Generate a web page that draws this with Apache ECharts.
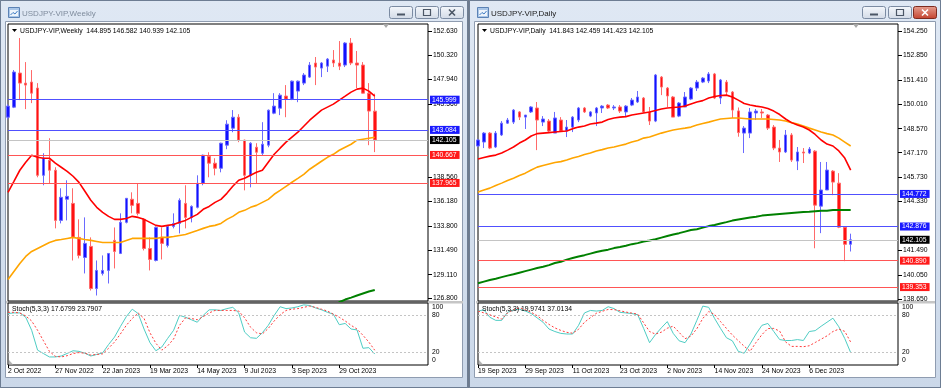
<!DOCTYPE html>
<html><head><meta charset="utf-8">
<script src="https://cdn.jsdelivr.net/npm/echarts@6/dist/echarts.min.js"></script>
<style>html,body{margin:0;padding:0;background:#6f7b8c;}#c{width:941px;height:388px;}</style>
</head><body><div id="c"></div>
<script>
// ---------------- DATA: Weekly ----------------
const wStart = '2022-10-02';
const wOpen  = [144.31,145.28,148.57,147.60,147.70,147.12,138.70,140.16,139.19,134.35,136.39,135.99,132.71,130.77,131.84,127.77,129.23,129.52,132.42,131.16,134.16,136.39,135.99,134.45,131.64,130.48,132.71,131.93,133.77,134.06,135.99,134.64,135.61,137.93,140.54,139.87,139.38,141.61,143.25,144.31,142.09,138.70,141.41,140.83,141.61,144.70,145.18,146.35,146.05,146.83,147.60,148.18,149.54,149.05,149.24,149.83,149.54,149.34,151.47,149.54,149.34,146.63,144.895];
const wHigh  = [145.55,148.86,151.95,149.63,148.86,147.60,140.83,142.28,139.48,137.45,138.22,137.45,134.45,134.64,132.71,130.48,130.97,131.20,133.67,135.03,136.50,137.06,137.93,134.54,132.71,133.77,133.67,133.87,135.03,136.48,137.74,135.80,138.70,140.70,140.93,140.35,141.85,144.02,145.00,144.60,142.15,141.90,141.80,143.83,145.05,146.63,146.63,147.41,147.85,147.85,148.57,149.63,150.12,149.63,150.02,150.79,151.66,151.56,151.95,150.70,149.63,147.60,146.582];
const wLow   = [144.10,145.19,145.96,145.09,145.67,138.51,137.74,137.93,133.58,134.06,134.35,130.48,130.68,129.23,127.58,127.10,129.03,128.26,129.71,131.10,134.06,135.03,134.83,131.45,129.52,130.39,130.58,131.74,133.58,133.09,133.58,134.16,135.51,137.74,138.51,138.70,138.99,141.22,142.86,141.90,137.25,137.54,137.93,140.64,141.41,144.60,144.51,144.31,145.96,145.76,147.41,148.10,147.41,148.18,148.67,149.15,148.86,149.15,149.34,147.12,146.60,141.61,140.939];
const wClose = [145.38,148.67,147.60,147.41,146.63,138.70,140.35,139.19,134.35,136.58,136.67,132.71,130.97,132.13,127.77,129.52,129.52,131.16,131.35,134.16,136.48,135.80,135.03,131.64,130.58,133.67,132.13,133.77,134.06,136.29,134.64,135.70,137.93,140.64,139.87,139.38,141.80,143.64,144.31,142.09,138.70,141.80,140.93,141.70,144.99,145.38,146.44,146.05,147.79,147.79,148.38,149.34,149.15,149.54,149.92,149.54,149.24,151.47,149.54,149.34,146.63,144.90,142.105];
const wMaRed    = [137.06,138.12,139.19,139.96,140.64,140.44,140.35,140.35,139.87,139.48,139.09,138.61,138.02,137.16,136.29,135.61,135.13,134.74,134.45,134.45,134.54,134.74,134.64,134.45,134.16,133.87,133.77,133.87,133.96,134.16,134.35,134.64,134.93,135.42,135.70,136.09,136.38,136.96,137.64,138.22,138.41,138.70,138.99,139.19,139.96,140.73,141.32,141.90,142.38,142.86,143.44,144.02,144.51,144.99,145.28,145.57,145.96,146.34,146.73,147.02,147.12,146.83,146.34];
const wMaOrange = [128.65,129.42,130.19,130.87,131.35,131.64,131.93,132.22,132.42,132.51,132.61,132.71,132.61,132.51,132.42,132.32,132.22,132.22,132.22,132.22,132.42,132.61,132.61,132.61,132.61,132.61,132.71,132.71,132.80,132.90,132.99,133.19,133.38,133.58,133.77,133.87,134.06,134.45,134.74,135.13,135.32,135.61,135.80,136.09,136.38,136.87,137.25,137.64,138.03,138.41,138.80,139.29,139.67,140.06,140.44,140.73,141.12,141.41,141.70,142.09,142.19,142.28,142.38];
const wMaGreen  = [null,null,null,null,null,null,null,null,null,null,null,null,null,null,null,null,null,null,null,null,null,null,null,null,null,null,null,null,null,null,null,null,null,null,null,null,null,null,null,null,null,null,null,null,null,null,null,null,null,null,null,null,null,null,null,126.10,126.45,126.71,126.90,127.10,127.29,127.48,127.63];
const wStochK = [83,84,84,77,56,24,18.4,13,13,14.5,18.6,23,22,19,14.5,17,19.5,33,45,62,78,90,83,58,36,23,29,43,56,80,77,73,69,80,89,89,88,91,93,84,53,44,43,52,64,80,94,91,92,94,97,96,92,89,85,82,65,67,58,56.6,27,28,17.6799];
const wStochD = [85,85,84,79,71,56,39,22,14,13,15,18.5,20,19,16,17,18,27,37,50,64,75,84,75,52,35,24,31,42,64,76,75,73,78,84,88,88,88,88,87,76,61,52,50,59,71,81,88,90,91,93,95,93,90,87,82,77,71,64,58,48,37,23.7907];
const wLevels = [145.999, 143.084, 142.105, 140.667, 137.965];
const wLevelKinds = ['res','res','bid','sup','sup'];
const wPriceTicks = [152.63,150.32,147.94,145.56,138.56,136.18,133.80,131.49,129.11,126.80];
const wDateLabels = ['2 Oct 2022','27 Nov 2022','22 Jan 2023','19 Mar 2023','14 May 2023','9 Jul 2023','3 Sep 2023','29 Oct 2023'];

// ---------------- DATA: Daily ----------------
const dStart = '2023-09-19';
const dOpen  = [147.56,147.79,148.31,147.50,148.20,148.89,148.95,149.54,149.24,149.54,149.77,148.95,149.01,148.31,149.07,148.43,148.66,149.07,149.77,149.30,149.48,149.77,149.94,149.77,149.83,149.54,149.94,150.12,150.35,149.54,149.01,151.57,150.93,150.41,149.30,149.83,150.29,150.93,151.28,151.34,151.75,150.35,151.28,150.70,149.60,148.31,148.31,149.48,149.54,149.36,148.66,147.44,147.21,148.20,146.68,147.21,147.15,147.26,144.06,145.00,146.10,145.40,142.84,141.843];
const dHigh  = [147.97,148.37,148.37,148.43,149.01,149.19,149.71,149.59,149.36,149.88,150.12,149.30,149.13,149.54,149.24,149.07,149.30,149.83,149.83,149.59,149.83,149.94,150.00,149.94,149.94,149.94,150.35,150.76,150.41,149.83,151.75,151.63,150.99,150.47,150.12,150.70,150.99,151.40,151.57,151.86,151.81,151.46,151.40,150.76,149.80,148.72,149.77,149.71,149.71,149.42,148.78,147.91,148.49,148.31,147.50,147.44,147.50,147.32,146.63,146.63,146.16,145.98,142.84,142.459];
const dLow   = [147.50,147.44,147.38,147.44,148.14,148.84,148.84,149.07,148.55,149.48,147.32,148.72,148.37,148.31,148.37,148.08,148.37,148.95,149.48,149.24,148.72,149.48,149.71,149.65,149.48,149.24,149.88,150.06,149.48,148.78,148.95,150.52,149.83,149.24,149.24,149.83,150.23,150.76,151.22,151.22,150.29,150.00,150.47,149.19,148.10,147.15,148.02,149.07,149.19,148.49,147.32,146.63,147.15,146.63,146.16,146.57,147.09,141.61,142.49,145.00,144.70,142.78,140.86,141.423];
const dClose = [147.91,148.31,147.44,148.31,148.89,149.07,149.65,149.24,149.36,149.83,149.07,149.13,148.43,149.19,148.43,148.66,149.24,149.77,149.54,149.54,149.77,149.88,149.77,149.83,149.59,149.88,150.23,150.41,149.54,149.01,151.69,150.99,150.47,149.24,150.06,150.41,150.93,151.28,151.51,151.75,150.35,151.40,150.70,149.65,148.34,148.60,149.54,149.59,149.48,148.60,147.44,147.21,148.20,146.74,147.21,147.15,147.38,144.12,145.00,146.16,145.46,142.84,141.84,142.105];
const dMaRed    = [146.80,146.89,146.97,147.03,147.15,147.32,147.50,147.73,147.91,148.14,148.28,148.31,148.34,148.37,148.40,148.43,148.57,148.66,148.72,148.84,148.89,148.95,149.10,149.19,149.24,149.27,149.36,149.42,149.48,149.54,149.62,149.71,149.77,149.80,149.83,149.88,150.00,150.12,150.20,150.35,150.44,150.50,150.52,150.41,150.23,150.03,149.94,149.88,149.83,149.74,149.59,149.39,149.13,148.92,148.78,148.66,148.49,148.23,147.91,147.67,147.56,147.27,146.86,146.16];
const dMaOrange = [144.88,145.00,145.11,145.26,145.40,145.55,145.69,145.84,145.98,146.16,146.33,146.42,146.51,146.60,146.65,146.74,146.86,146.95,147.06,147.15,147.27,147.35,147.44,147.50,147.59,147.67,147.79,147.88,148.02,148.08,148.20,148.31,148.40,148.49,148.55,148.60,148.66,148.78,148.87,148.95,149.04,149.13,149.16,149.19,149.19,149.16,149.13,149.13,149.13,149.13,149.10,149.07,149.01,148.92,148.84,148.72,148.60,148.49,148.37,148.28,148.20,148.02,147.79,147.56];
const dMaGreen  = [139.58,139.67,139.76,139.84,139.93,140.02,140.10,140.19,140.28,140.37,140.46,140.54,140.63,140.75,140.83,140.95,141.04,141.13,141.21,141.30,141.39,141.47,141.53,141.62,141.68,141.76,141.85,141.91,142.00,142.06,142.14,142.23,142.32,142.41,142.49,142.58,142.67,142.72,142.81,142.90,142.96,143.05,143.13,143.22,143.28,143.34,143.40,143.45,143.51,143.54,143.57,143.60,143.63,143.66,143.69,143.72,143.74,143.77,143.80,143.80,143.83,143.83,143.83,143.83];
const dStochK = [87,89,77,72,72,85,89,90,87,83,76,69,58,54,51,50,50,64,84,88,87,88,94,91,85,84,83,81,59,36,49,60,70,51,39,36,50,72,95,93,75,59,44,39,22,19,34,50,64,67,54,41,39.5,39.5,41,39.5,54,55.4,62.5,69,75.5,61.6,42.7,19.9741];
const dStochD = [87,84,81,77.5,74,84,89.5,92,89,85,79.5,72,65.5,59.8,55.8,52.7,51.3,57.6,69,76.3,83.4,86.6,89.6,89.3,87.4,85.4,83.7,82,68,54,49.8,53,59.3,62.7,52.6,42.4,46.6,58.6,75,86.2,81.6,70,59,48.3,39.2,30.2,22.2,36.4,49,58.8,59,54.6,37.2,30,30,29.5,31,36.3,41.6,47,54,57.9,54.2,37.0134];
const dLevels = [144.772, 142.876, 142.105, 140.890, 139.353];
const dLevelKinds = ['res','res','bid','sup','sup'];
const dPriceTicks = [154.25,152.85,151.41,150.01,148.57,147.17,145.73,144.33,141.49,140.05,138.65];
const dDateLabels = ['19 Sep 2023','29 Sep 2023','11 Oct 2023','23 Oct 2023','2 Nov 2023','14 Nov 2023','24 Nov 2023','6 Dec 2023'];

const stochTicks = [0,20,80,100];
const stochLevels = [20,80];

// ---------------- helpers ----------------
const FONT = 'Liberation Sans, Arial, sans-serif';
const FS = 6.8;
const SLOTS = 72;
const MONTHS = ['Jan','Feb','Mar','Apr','May','Jun','Jul','Aug','Sep','Oct','Nov','Dec'];
function fmt(d){return d.getUTCDate()+' '+MONTHS[d.getUTCMonth()]+' '+d.getUTCFullYear();}
function weeklyCats(start,n){const o=[];let t=Date.parse(start+'T00:00:00Z');for(let i=0;i<n;i++){o.push(fmt(new Date(t)));t+=7*864e5;}return o;}
function dailyCats(start,n){const o=[];let t=Date.parse(start+'T00:00:00Z');while(o.length<n){const d=new Date(t);const w=d.getUTCDay();if(w!==0&&w!==6)o.push(fmt(d));t+=864e5;}return o;}
function pad(c){const o=c.slice();let k=1;while(o.length<SLOTS)o.push('+'+(k++));return o;}
const wCats = pad(weeklyCats(wStart, wOpen.length));
const dCats = pad(dailyCats(dStart, dOpen.length));

const UP='#1212ff', DOWN='#ff1212', UP_WICK='#6a6aff', DOWN_WICK='#ff6a6a';
const LEVEL_STYLE = {res:{line:'#5050ff',box:'#1a1aff'}, bid:{line:'#c4c4c4',box:'#000000'}, sup:{line:'#ff5555',box:'#ff1a1a'}};

function grid(left, top, h){return {left, top, width:420, height:h, show:true, backgroundColor:'#fff', borderColor:'#000', borderWidth:1, containLabel:false, outerBoundsMode:'none'};}
function xMain(gi, cats){return {type:'category', gridIndex:gi, data:cats, boundaryGap:false, axisLine:{show:false}, axisTick:{show:false}, axisLabel:{show:false}, splitLine:{show:false}};}
function xStoch(gi, cats, labels){
  const f=(i,v)=>labels.indexOf(v)>=0;
  return {type:'category', gridIndex:gi, data:cats, boundaryGap:false, axisLine:{show:false},
    axisTick:{show:true, interval:f, length:3, lineStyle:{color:'#000'}},
    axisLabel:{show:true, interval:f, align:'left', margin:3, fontSize:FS, fontFamily:FONT, color:'#000'}, splitLine:{show:false}};
}
function yPrice(gi, min, max, ticks){
  return {type:'value', gridIndex:gi, position:'right', min, max, scale:true, axisLine:{show:false}, splitLine:{show:false},
    axisTick:{show:true, customValues:ticks, length:4, lineStyle:{color:'#000'}},
    axisLabel:{show:true, customValues:ticks, margin:5, fontSize:FS, fontFamily:FONT, color:'#000', formatter:v=>v.toFixed(3)}};
}
function yStoch(gi){
  return {type:'value', gridIndex:gi, position:'right', min:0, max:100, axisLine:{show:false}, splitLine:{show:false},
    axisTick:{show:false},
    axisLabel:{show:true, customValues:stochTicks, margin:4, fontSize:FS, fontFamily:FONT, color:'#000',
      formatter:v=> v===100?'{t|100}':(v===0?'{b|0}':String(v)),
      rich:{t:{padding:[9,0,0,0],fontSize:FS,fontFamily:FONT,color:'#000'}, b:{padding:[0,0,9,0],fontSize:FS,fontFamily:FONT,color:'#000'}}}};
}
function candles(xi, yi, o,h,l,c, levels, kinds){
  return {type:'candlestick', xAxisIndex:xi, yAxisIndex:yi, barWidth:3, silent:true, z:2,
    data:o.map((v,i)=>[v,c[i],l[i],h[i]]),
    itemStyle:{color:UP, color0:DOWN, borderColor:UP_WICK, borderColor0:DOWN_WICK, borderWidth:1},
    markLine:{symbol:['none','none'], silent:true, animation:false, precision:3,
      data:levels.map((v,i)=>{const s=LEVEL_STYLE[kinds[i]];return {yAxis:v, lineStyle:{color:s.line,width:1,type:'solid'},
        label:{show:true, position:'end', distance:2, formatter:v.toFixed(3), color:'#fff', backgroundColor:s.box, padding:[1,3,0,2], fontSize:FS, fontFamily:FONT, lineHeight:7}};})}};
}
function line(xi, yi, data, color, width, type, z){
  return {type:'line', xAxisIndex:xi, yAxisIndex:yi, data, symbol:'none', showSymbol:false, silent:true, connectNulls:false, z:z||3,
    lineStyle:{color, width, type:type||'solid'}};
}
function stochK(xi, yi, data){
  const s=line(xi, yi, data, '#4fcdc4', 1, 'solid', 4);
  s.markLine={symbol:['none','none'], silent:true, animation:false, label:{show:false},
    lineStyle:{color:'#c4c4c4', width:1, type:[2,2]}, data:stochLevels.map(v=>({yAxis:v}))};
  return s;
}

// ---------------- window chrome ----------------
function grad(a,b){return new echarts.graphic.LinearGradient(0,0,0,1,[{offset:0,color:a},{offset:1,color:b}]);}
function chrome(x0, x1, title, active){
  const E=[];
  E.push({type:'rect', z:-30, shape:{x:x0+0.5,y:0.5,width:x1-x0-1,height:387}, style:{fill:grad('#dfe8f4','#cbd8e9'), stroke:'#6d7d93', lineWidth:1}});
  E.push({type:'rect', z:-29, shape:{x:x0+5.5,y:21.5,width:x1-x0-11,height:356}, style:{fill:'#ffffff', stroke:'#8f9cb0', lineWidth:1}});
  E.push({type:'rect', z:-28, shape:{x:x0+8.5,y:7.5,width:11,height:10}, style:{fill:'#a9c6e8', stroke:'#5b82b5', lineWidth:1}});
  E.push({type:'rect', z:-27, shape:{x:x0+10,y:10,width:8,height:6}, style:{fill:'#eef4fb'}});
  E.push({type:'polyline', z:-26, shape:{points:[[x0+10.5,15],[x0+13,12.5],[x0+15,14],[x0+17.5,11]]}, style:{stroke:'#3e7cc4', lineWidth:1, fill:null}});
  E.push({type:'text', z:-26, x:x0+22, y:13.5, style:{text:title, fill:active?'#1b1b1b':'#7f8c9d', font:'8px '+FONT, textVerticalAlign:'middle'}});
  const bx=[x1-79, x1-53, x1-28];
  ['min','max','close'].forEach((k,i)=>{
    const x=bx[i], y=6, w=23, h=12;
    const red = k==='close' && active;
    E.push({type:'rect', z:-26, shape:{x:x+0.5,y:y+0.5,width:w,height:h,r:2}, style:{fill:red?grad('#e6a192','#c3412d'):grad('#f5f8fc','#d2dae6'), stroke:red?'#7e2b1f':'#7b8ba2', lineWidth:1}});
    const ic = red?'#ffffff':'#4b5666';
    const cx=x+w/2+0.5, cy=y+h/2+0.5;
    if(k==='min') E.push({type:'rect', z:-25, shape:{x:cx-4,y:cy+1,width:8,height:2}, style:{fill:ic}});
    if(k==='max') E.push({type:'rect', z:-25, shape:{x:cx-3.5,y:cy-3,width:7,height:6}, style:{fill:null, stroke:ic, lineWidth:1.2}});
    if(k==='close'){
      E.push({type:'line', z:-25, shape:{x1:cx-3,y1:cy-3,x2:cx+3,y2:cy+3}, style:{stroke:ic, lineWidth:1.6}});
      E.push({type:'line', z:-25, shape:{x1:cx+3,y1:cy-3,x2:cx-3,y2:cy+3}, style:{stroke:ic, lineWidth:1.6}});
    }
  });
  return E;
}
function overlay(gx, hdr, stochHdr){
  const E=[];
  E.push({type:'polygon', z:100, shape:{points:[[gx+4,29],[gx+9,29],[gx+6.5,32]]}, style:{fill:'#000'}});
  E.push({type:'text', z:100, x:gx+12, y:31, style:{text:hdr, fill:'#000', font:FS+'px '+FONT, textVerticalAlign:'middle'}});
  E.push({type:'text', z:100, x:gx+4, y:309, style:{text:stochHdr, fill:'#000', font:FS+'px '+FONT, textVerticalAlign:'middle'}});
  E.push({type:'polygon', z:100, shape:{points:[[gx+375,24],[gx+381,24],[gx+378,28]]}, style:{fill:'#a8a8a8'}});
  E.push({type:'polygon', z:100, shape:{points:[[gx+1,360],[gx+1,364.5],[gx+5,364.5]]}, style:{fill:'#b4b4b4'}});
  return E;
}
function sep(x0,x1){return {type:'rect', z:-20, shape:{x:x0,y:301,width:x1-x0,height:2.5}, style:{fill:'#c6c6c6'}};}

const wl=wOpen.length-1, dl=dOpen.length-1;
const f3=v=>v.toFixed(3), f4=v=>v.toFixed(4);
const wHdr='USDJPY-VIP,Weekly  '+[wOpen[wl],wHigh[wl],wLow[wl],wClose[wl]].map(f3).join(' ');
const dHdr='USDJPY-VIP,Daily  '+[dOpen[dl],dHigh[dl],dLow[dl],dClose[dl]].map(f3).join(' ');
const wSH='Stoch(5,3,3) '+f4(wStochK[wl])+' '+f4(wStochD[wl]);
const dSH='Stoch(5,3,3) '+f4(dStochK[dl])+' '+f4(dStochD[dl]);

const elements = [].concat(
  chrome(0,468,'USDJPY-VIP,Weekly',false),
  chrome(469,941,'USDJPY-VIP,Daily',true),
  [sep(6,463), sep(476,935)],
  overlay(8,wHdr,wSH),
  overlay(478,dHdr,dSH)
);

const option = {
  animation:false,
  backgroundColor:'#6f7b8c',
  textStyle:{fontFamily:FONT},
  graphic:{elements},
  grid:[grid(8,24,277), grid(8,303,62), grid(478,24,277), grid(478,303,62)],
  xAxis:[xMain(0,wCats), xStoch(1,wCats,wDateLabels), xMain(2,dCats), xStoch(3,dCats,dDateLabels)],
  yAxis:[yPrice(0,126.57,153.306,wPriceTicks), yStoch(1), yPrice(2,138.543,154.657,dPriceTicks), yStoch(3)],
  series:[
    candles(0,0,wOpen,wHigh,wLow,wClose,wLevels,wLevelKinds),
    line(0,0,wMaOrange,'#ffa500',1.6),
    line(0,0,wMaRed,'#ff0000',1.6),
    line(0,0,wMaGreen,'#008000',2),
    stochK(1,1,wStochK),
    line(1,1,wStochD,'#ff3c3c',1,[2,2],5),
    candles(2,2,dOpen,dHigh,dLow,dClose,dLevels,dLevelKinds),
    line(2,2,dMaOrange,'#ffa500',1.6),
    line(2,2,dMaRed,'#ff0000',1.6),
    line(2,2,dMaGreen,'#008000',2),
    stochK(3,3,dStochK),
    line(3,3,dStochD,'#ff3c3c',1,[2,2],5)
  ]
};
const chart = echarts.init(document.getElementById('c'), null, {renderer:'canvas', width:941, height:388});
chart.setOption(option);
</script></body></html>
